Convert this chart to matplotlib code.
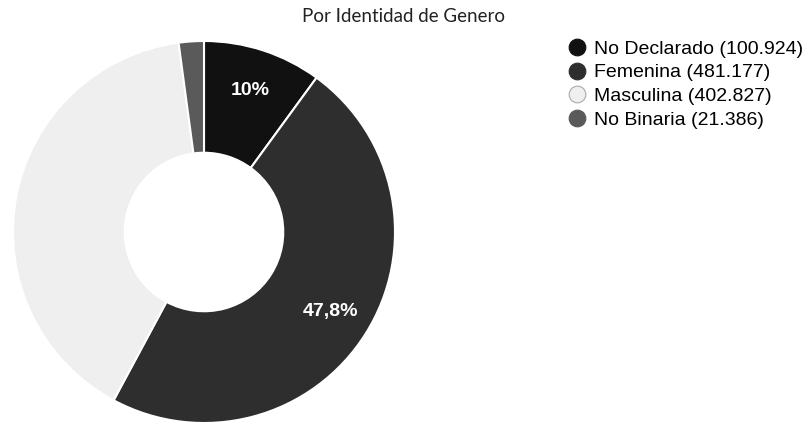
import numpy as np
import matplotlib
matplotlib.use("Agg")
import matplotlib.pyplot as plt
from matplotlib.lines import Line2D

# datos
categorias = ["No Declarado", "Femenina", "Masculina", "No Binaria"]
valores = [100924, 481177, 402827, 21386]
etiquetas_leyenda = ["No Declarado (100.924)", "Femenina (481.177)",
                     "Masculina (402.827)", "No Binaria (21.386)"]
colores = ["#111111", "#2e2e2e", "#efefef", "#5a5a5a"]
titulo = "Por Identidad de Genero"
# solo se ven las etiquetas sobre los sectores oscuros
mostrar_pct = [True, True, False, False]

W, H = 811, 426
fig = plt.figure(figsize=(W / 100, H / 100), dpi=100)
fig.patch.set_facecolor("white")

# donut: centro (204, 232) px, radio 191 px
cx, cy, r = 204, 232, 191
ax = fig.add_axes([(cx - r) / W, (H - cy - r) / H, 2 * r / W, 2 * r / H])

wedges, _ = ax.pie(
    valores, colors=colores, startangle=90, counterclock=False, radius=1,
    wedgeprops=dict(width=0.585, edgecolor="white", linewidth=1.5))

total = sum(valores)
for w, v, ver in zip(wedges, valores, mostrar_pct):
    if not ver:
        continue
    p = 100 * v / total
    txt = f"{p:.1f}".rstrip("0").rstrip(".").replace(".", ",") + "%"
    ang = np.deg2rad((w.theta1 + w.theta2) / 2)
    ax.text(0.78 * np.cos(ang), 0.78 * np.sin(ang), txt,
            ha="center", va="center", color="white",
            fontsize=14, fontweight="bold", family="Liberation Sans")

ax.set_xlim(-1, 1)
ax.set_ylim(-1, 1)
ax.set_aspect("auto")
ax.axis("off")

fig.text(403 / W, 1 - 16 / H, titulo, ha="center", va="center",
         fontsize=13.5, family="Lato", color="#222222")

# leyenda
handles = [Line2D([], [], marker="o", linestyle="", markersize=12,
                  markerfacecolor=c,
                  markeredgecolor="#aaaaaa" if c == "#efefef" else c,
                  markeredgewidth=0.8)
           for c in colores]
fig.legend(handles, etiquetas_leyenda, loc="upper left",
           bbox_to_anchor=(565 / W, 1 - 40 / H), frameon=False,
           prop=dict(family="Liberation Sans", size=14),
           handletextpad=0.3, handlelength=1.2, labelspacing=0.32,
           borderaxespad=0, borderpad=0)

plt.savefig("out.png", dpi=100, facecolor="white")
plt.close()
